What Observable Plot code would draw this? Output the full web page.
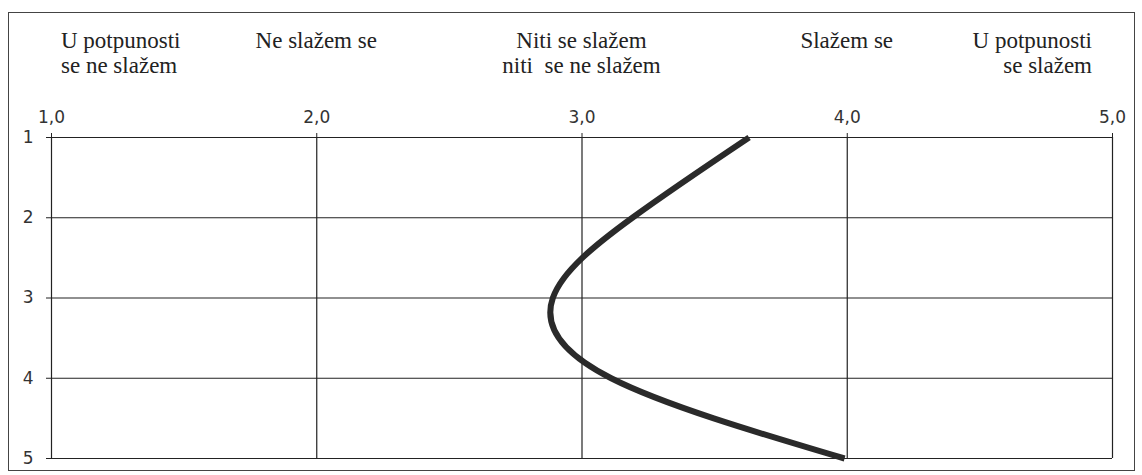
<!DOCTYPE html>
<html>
<head>
<meta charset="utf-8">
<script src="https://cdn.jsdelivr.net/npm/d3@7"></script>
<script src="https://cdn.jsdelivr.net/npm/@observablehq/plot@0.6"></script>
<style>
  html, body { margin: 0; padding: 0; background: #fff; }
  #wrap { position: relative; width: 1142px; height: 475px; overflow: hidden; }
  #border { position: absolute; left: 8px; top: 12px; width: 1125px; height: 457px; border: 1.5px solid #444; }
  #plot { position: absolute; left: 0; top: 0; }
  .cat { position: absolute; top: 28px; font-family: "Liberation Serif", serif; font-size: 23px; line-height: 25px; color: #222; white-space: pre; }
</style>
</head>
<body>
<div id="wrap"><div id="border"></div><div id="plot"></div></div>
<script>
// Data
const levels = [1, 2, 3, 4, 5];               // item / row (y)
const means = [3.63, 3.19, 2.89, 3.11, 3.99];  // mean agreement (x)
const xTicks = [1, 2, 3, 4, 5];
const categories = [
  "U potpunosti\nse ne slažem",
  "Ne slažem se",
  "Niti se slažem\nniti  se ne slažem",
  "Slažem se",
  "U potpunosti\nse slažem"
];
const catAlign = ["left", "center", "center", "center", "right"];

const data = levels.map((l, i) => ({level: l, mean: means[i]}));

const plot = Plot.plot({
  width: 1142,
  height: 475,
  marginTop: 137,
  marginLeft: 51,
  marginRight: 30,
  marginBottom: 17,
  style: {fontFamily: "DejaVu Sans", fontSize: "17px", color: "#333", background: "transparent"},
  x: {domain: [1, 5]},
  y: {domain: [1, 5], reverse: true},
  marks: [
    Plot.gridX(xTicks, {stroke: "#222", strokeOpacity: 1, strokeWidth: 1.2}),
    Plot.gridY(levels, {stroke: "#222", strokeOpacity: 1, strokeWidth: 1.2}),
    Plot.axisX(xTicks, {anchor: "top", tickSize: 5, tickPadding: 10, label: null,
      tickFormat: d => d.toFixed(1).replace(".", ","), stroke: "#222"}),
    Plot.axisY(levels, {anchor: "left", tickSize: 5, tickPadding: 13, label: null,
      tickFormat: d => String(d), stroke: "#222"}),
    Plot.line(data, {x: "mean", y: "level", curve: "natural", stroke: "#2a2a2a", strokeWidth: 6, strokeLinecap: "butt"})
  ]
});
document.getElementById("plot").appendChild(plot);

// Category labels above the scale, anchored to the x scale
const xs = plot.scale("x");
const wrap = document.getElementById("wrap");
categories.forEach((c, i) => {
  const d = document.createElement("div");
  d.className = "cat";
  d.textContent = c;
  const px = xs.apply(xTicks[i]);
  d.style.textAlign = catAlign[i];
  if (catAlign[i] === "left") {
    d.style.left = (px + 10) + "px";
  } else if (catAlign[i] === "right") {
    d.style.right = (1142 - px + 20) + "px";
  } else {
    d.style.left = (px - 150) + "px";
    d.style.width = "300px";
  }
  wrap.appendChild(d);
});
</script>
</body>
</html>
